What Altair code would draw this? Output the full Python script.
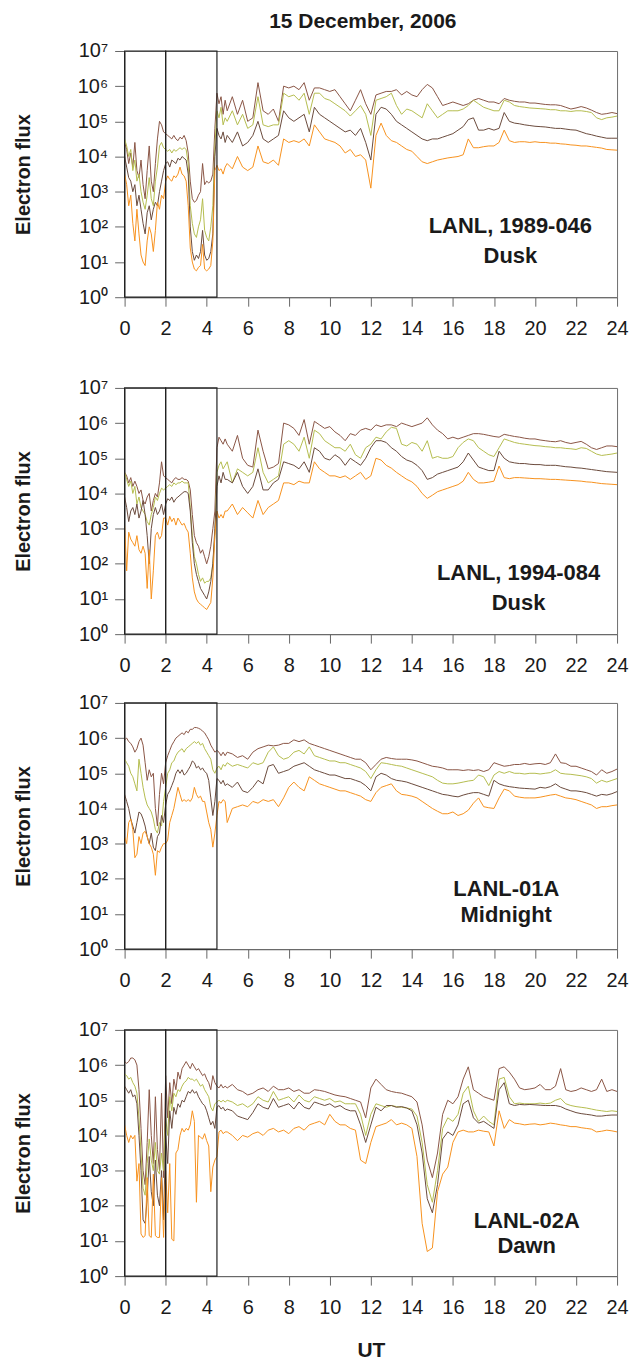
import altair as alt
import pandas as pd

FONT = "Liberation Sans"
TXT = "#1a1a1a"

# sample times (UT hours): 0.1 h steps up to 4.9, then 0.25 h steps to 24
HOURS = [round(i * 0.1, 1) for i in range(50)] + [5.0 + 0.25 * j for j in range(77)]

SERIES = ["s1", "s2", "s3", "s4"]
COLORS = ["#8a5545", "#b5bd4f", "#6a4a3c", "#f7921e"]

# ---------- values are log10(electron flux) ----------
# Panel 1: LANL 1989-046, Dusk
P1_A = [4.4, 4.2, 3.8, 4.1, 3.7, 4.4, 3.6, 3.4, 3.9, 3.2,
        2.8, 3.6, 4.3, 3.3, 3.0, 3.8, 4.5, 5.0, 4.9, 4.7,
        4.65, 4.6, 4.55, 4.5, 4.6, 4.5, 4.45, 4.55, 4.5, 4.6,
        4.45, 4.1, 3.3, 2.8, 2.7, 2.75, 2.9, 3.0, 3.8, 3.2,
        3.3, 3.25, 3.3, 3.5, 4.8, 5.8, 5.5, 5.7, 5.2, 5.6,
        5.3, 5.7, 5.2, 5.6,
        5.0, 5.1, 6.1, 5.3,
        5.2, 5.35, 5.0, 6.0,
        5.95, 6.0, 5.9, 6.1,
        5.6, 5.95, 5.95, 5.9,
        5.85, 5.9, 5.7, 5.5,
        5.3, 5.6, 5.9, 5.5,
        5.2, 5.75, 5.8, 5.85,
        5.85, 5.9, 5.75, 5.85,
        5.75, 5.7, 5.9, 6.05,
        5.95, 5.7, 5.45, 5.5,
        5.55, 5.5, 5.45, 5.5,
        5.6, 5.65, 5.6, 5.55,
        5.55, 5.5, 5.65, 5.6,
        5.57, 5.55, 5.55, 5.52,
        5.52, 5.5, 5.48, 5.47,
        5.47, 5.45, 5.4, 5.35,
        5.38, 5.42, 5.38, 5.32,
        5.25, 5.2, 5.22, 5.25,
        5.22]
P1_B = [4.5, 4.3, 4.0, 4.2, 3.6, 3.9, 3.3, 3.5, 3.0, 2.7,
        2.5, 2.9, 3.4, 2.8, 2.6, 3.3, 3.7, 4.3, 4.4, 4.25,
        4.2, 4.15, 4.2, 4.1, 4.2, 4.15, 4.2, 4.25, 4.2, 4.25,
        4.2, 3.8, 2.6, 2.1, 1.8, 1.7, 2.0, 2.2, 2.8, 1.9,
        1.7, 1.6, 2.0, 2.6, 4.3, 5.3, 5.1, 5.4, 4.9, 5.1,
        5.0, 5.3, 4.9, 5.2,
        4.8, 4.9, 5.7, 4.9,
        4.85, 4.9, 4.9, 5.8,
        5.7, 5.75, 5.6, 5.8,
        5.2, 5.8, 5.8, 5.65,
        5.6, 5.5, 5.4, 5.3,
        5.15, 5.3, 5.45, 5.2,
        4.6, 5.6, 5.65, 5.7,
        5.8, 5.45, 5.2, 5.35,
        5.3, 5.2, 5.1, 5.5,
        5.3, 5.1, 5.2, 5.3,
        5.3, 5.3, 5.35, 5.45,
        5.6, 5.5, 5.4, 5.35,
        5.3, 5.3, 5.6, 5.55,
        5.45, 5.42, 5.4, 5.38,
        5.37, 5.36, 5.35, 5.33,
        5.33, 5.3, 5.3, 5.28,
        5.3, 5.3, 5.28, 5.25,
        5.1, 5.05, 5.1, 5.12,
        5.15]
P1_C = [4.0, 3.7, 3.4, 3.3, 3.0, 3.2, 2.6, 2.9, 2.5, 2.1,
        1.8, 2.4, 2.6, 2.2, 2.5, 2.7, 2.6, 3.0, 3.3, 3.6,
        3.8, 3.85, 3.7, 3.9, 3.85, 3.8, 3.95, 3.9, 4.0, 3.95,
        3.9, 3.5, 2.0, 1.3, 1.05, 1.2, 1.1, 1.3, 1.9, 1.2,
        1.05, 1.1, 1.3, 1.8, 4.0, 4.8, 4.6, 4.5, 4.7, 4.4,
        4.6, 4.4, 4.7, 4.3,
        4.4, 4.6, 5.0, 4.5,
        4.4, 4.5, 4.6, 5.3,
        5.1, 5.0, 5.1, 5.2,
        4.7, 5.4, 5.2, 5.1,
        5.0, 4.9, 4.8, 4.7,
        4.75, 4.6, 4.8, 4.4,
        3.9, 5.2, 5.4, 5.35,
        5.2, 5.0, 4.9, 4.8,
        4.7, 4.6, 4.5, 4.45,
        4.5, 4.5, 4.55, 4.6,
        4.65, 4.75, 4.85, 5.05,
        5.1, 4.75, 4.75, 4.8,
        4.75, 4.8, 5.25, 5.0,
        4.95, 4.93, 4.9, 4.88,
        4.86, 4.85, 4.84, 4.82,
        4.8, 4.8, 4.78, 4.76,
        4.75, 4.7, 4.65, 4.62,
        4.58, 4.55, 4.52, 4.52,
        4.52]
P1_D = [3.5, 3.2, 2.6, 2.9, 2.1, 1.6, 2.5, 1.8, 1.2, 1.0,
        0.9, 1.6, 2.0, 1.8, 1.3, 1.9, 2.7, 2.5, 2.9, 2.8,
        3.3, 3.45, 3.35, 3.3, 3.45, 3.4, 3.5, 3.7, 3.5, 3.45,
        3.3, 2.6, 1.4, 1.0, 0.8, 0.75, 0.85, 0.9, 1.5, 0.8,
        0.75, 0.8, 0.9, 1.6, 3.6, 3.75, 3.6, 3.65, 3.5, 3.7,
        3.8, 3.65, 4.0, 3.7,
        3.6, 3.7, 4.3, 3.85,
        3.8, 3.9, 3.75, 4.5,
        4.4, 4.45, 4.4, 4.5,
        4.3, 4.9, 4.7, 4.5,
        4.45, 4.4, 4.3, 4.1,
        4.2, 4.0, 4.05, 3.9,
        3.1, 4.6, 4.95, 4.6,
        4.45, 4.4, 4.3, 4.2,
        4.15, 4.0, 3.85, 3.8,
        3.85, 3.9, 3.93, 3.96,
        3.98, 4.0, 4.05, 4.5,
        4.25, 4.25, 4.28, 4.3,
        4.3, 4.4, 4.75, 4.45,
        4.4, 4.42, 4.42, 4.4,
        4.42, 4.4, 4.4, 4.38,
        4.38, 4.36, 4.35, 4.33,
        4.32, 4.3, 4.3, 4.28,
        4.26, 4.24, 4.2, 4.19,
        4.18]

# Panel 2: LANL 1994-084, Dusk
P2_A = [4.6, 4.5, 4.3, 4.45, 4.2, 4.35, 4.2, 4.0, 4.1, 3.8,
        3.7, 3.9, 4.0, 3.5, 3.8, 4.0, 3.9, 4.3, 4.9, 4.5,
        4.45, 4.4, 4.35, 4.3, 4.4, 4.45, 4.4, 4.4, 4.45, 4.4,
        4.4, 4.35, 4.1, 3.4, 2.8, 2.6, 2.5, 2.3, 2.4, 2.2,
        2.0, 2.2, 2.5, 3.0, 3.5, 5.3, 5.6, 5.5, 5.4, 5.55,
        5.4, 5.2, 5.65, 5.0,
        4.8, 4.75, 5.8, 5.2,
        4.7, 4.75, 4.85, 6.0,
        5.95, 5.85, 5.65, 6.1,
        5.4, 6.05, 5.95, 5.85,
        5.9, 5.75, 5.65, 5.5,
        5.7, 5.65, 5.8, 5.85,
        5.8, 5.95, 5.9, 5.95,
        5.95, 5.9, 6.0, 5.95,
        5.9, 5.95, 6.0, 6.15,
        5.95, 5.8, 5.7, 5.55,
        5.6, 5.55, 5.6, 5.65,
        5.7, 5.7, 5.68, 5.65,
        5.62, 5.6, 5.68, 5.65,
        5.62, 5.6, 5.57, 5.55,
        5.55, 5.52, 5.5, 5.48,
        5.47, 5.5, 5.45, 5.42,
        5.45, 5.48, 5.4, 5.3,
        5.25, 5.3, 5.35, 5.35,
        5.33]
P2_B = [4.6, 4.4, 4.2, 4.35, 4.0, 4.2, 3.7, 3.9, 3.6, 3.5,
        3.4, 3.2, 3.1, 3.4, 3.6, 3.9, 3.8, 4.0, 4.15, 4.1,
        4.15, 4.2, 4.25, 4.2, 4.3, 4.25, 4.3, 4.3, 4.35, 4.3,
        4.3, 4.3, 3.6, 2.8, 2.2, 2.0, 1.7, 1.5, 1.6, 1.45,
        1.5, 1.5, 1.6, 2.0, 2.8, 4.6, 4.8, 4.9, 4.7, 4.8,
        4.9, 4.3, 4.7, 4.6,
        4.5, 4.6, 5.3, 4.6,
        4.3, 4.4, 4.5, 5.4,
        5.5, 5.4, 5.2, 5.6,
        5.0, 5.8, 5.7, 5.5,
        5.4, 5.3, 5.3, 5.2,
        5.4, 5.1, 5.0, 5.3,
        5.4, 5.6, 5.55, 5.75,
        5.88, 5.85, 5.4, 5.35,
        5.45, 5.4, 5.2, 5.5,
        5.0, 5.05, 5.0, 5.0,
        5.05, 5.3, 5.45, 5.55,
        5.5, 5.3, 5.2, 5.1,
        5.05, 5.3, 5.55, 5.5,
        5.45, 5.42, 5.4, 5.38,
        5.36, 5.35, 5.33, 5.32,
        5.3, 5.3, 5.28, 5.27,
        5.25, 5.3, 5.28, 5.2,
        5.12, 5.08, 5.1, 5.12,
        5.15]
P2_C = [3.9, 3.6, 3.2, 3.5, 3.6, 3.4, 3.7, 3.3, 3.5, 3.8,
        3.4, 2.8, 2.0, 3.0, 3.4, 3.6, 3.4, 3.5, 3.7, 3.4,
        3.7, 3.85, 3.8, 3.9, 3.75, 3.85, 3.9, 3.95, 4.0, 4.05,
        4.05, 4.0, 3.5, 2.6, 2.0, 1.7, 1.5, 1.3, 1.2, 1.1,
        1.0, 1.2, 1.5, 2.0, 3.0, 4.2, 4.5, 4.3, 4.6, 4.4,
        4.4, 4.3, 4.6, 4.2,
        4.0, 4.2, 4.7, 4.1,
        4.1, 4.3, 4.4, 4.9,
        4.85, 4.8, 4.7, 4.9,
        4.6, 5.3, 5.2, 5.0,
        4.95, 5.1, 5.0, 4.8,
        5.0, 4.9, 4.8, 5.0,
        5.3, 5.5, 5.5, 5.45,
        5.3, 5.2, 5.05, 4.95,
        4.9, 4.8, 4.65, 4.4,
        4.45, 4.55, 4.6, 4.65,
        4.7, 4.75, 4.9, 5.15,
        4.95, 4.75, 4.7, 4.65,
        4.65, 5.2, 5.0, 4.9,
        4.87, 4.85, 4.85, 4.83,
        4.82, 4.82, 4.8, 4.8,
        4.8, 4.78, 4.76, 4.75,
        4.73, 4.72, 4.7, 4.68,
        4.66, 4.64, 4.62, 4.61,
        4.6]
P2_D = [3.1, 1.8, 2.9, 2.7, 2.6, 2.5, 2.8, 2.4, 2.3, 2.5,
        2.3, 1.3, 2.4, 1.0, 1.8, 2.8, 2.9, 2.7, 2.8, 3.3,
        3.3, 3.1, 3.35, 3.2, 3.3, 3.1, 3.3, 3.2, 3.1, 3.15,
        3.0, 2.9, 2.3, 1.6, 1.2, 1.0, 0.9, 0.85, 0.8, 0.75,
        0.7, 0.8, 0.9, 1.6, 2.8, 3.5, 3.3, 3.4, 3.3, 3.5,
        3.5, 3.7, 3.4, 3.6,
        3.45, 3.3, 3.8, 3.4,
        3.6, 3.7, 3.8, 4.3,
        4.3, 4.25, 4.35, 4.3,
        4.3, 4.9, 4.7, 4.6,
        4.5, 4.5, 4.45, 4.5,
        4.4, 4.5, 4.6, 4.4,
        4.5, 5.0, 4.95, 4.8,
        4.72, 4.6, 4.5, 4.4,
        4.33, 4.2, 4.0, 3.86,
        3.95, 4.05, 4.1, 4.15,
        4.2, 4.25, 4.35, 4.6,
        4.4, 4.3, 4.3, 4.32,
        4.35, 4.78, 4.45, 4.42,
        4.45, 4.45, 4.44, 4.43,
        4.42, 4.42, 4.41, 4.4,
        4.4, 4.39, 4.38, 4.37,
        4.36, 4.35, 4.33, 4.32,
        4.3, 4.28, 4.27, 4.26,
        4.25]

# Panel 3: LANL-01A, Midnight
P3_A = [5.95, 6.0, 5.9, 5.85, 5.75, 5.6, 5.7, 5.9, 6.0, 5.8,
        5.3, 4.8, 5.1, 4.9, 5.0, 4.0, 3.5, 4.4, 5.0, 4.7,
        5.3, 5.5, 5.65, 5.8, 5.9, 6.0, 6.05, 6.1, 6.15, 6.1,
        6.2, 6.15, 6.25, 6.25, 6.3, 6.3, 6.28, 6.25, 6.2, 6.15,
        6.05, 5.95, 5.8, 5.7, 5.6, 5.65, 5.6, 5.5, 5.6, 5.5,
        5.6, 5.55, 5.45, 5.5,
        5.4, 5.6, 5.7, 5.75,
        5.8, 5.78, 5.8, 5.85,
        5.85, 5.95, 5.9, 5.95,
        5.85, 5.8, 5.75, 5.7,
        5.65, 5.6, 5.55, 5.5,
        5.45, 5.4, 5.4, 5.3,
        5.1, 5.25, 5.4, 5.45,
        5.42, 5.4, 5.4, 5.4,
        5.38, 5.35, 5.3, 5.25,
        5.2, 5.18, 5.15, 5.1,
        5.1, 5.1, 5.08, 5.1,
        5.08, 5.1, 5.05, 5.1,
        5.3, 5.25, 5.2, 5.22,
        5.25, 5.25, 5.28, 5.25,
        5.27, 5.28, 5.25, 5.3,
        5.55, 5.3, 5.28, 5.2,
        5.2, 5.15, 5.1, 5.05,
        4.95, 5.1, 5.0, 5.05,
        5.12]
P3_B = [5.4, 5.3, 5.2, 5.0, 4.9, 4.7, 4.5, 5.4, 5.0, 4.6,
        4.3, 4.1, 4.0, 3.9, 3.7, 3.4, 3.3, 3.6, 3.5, 4.2,
        4.6, 5.0, 5.1, 5.3, 5.35, 5.5, 5.6, 5.65, 5.7, 5.6,
        5.7, 5.75, 5.8, 5.85, 5.9, 5.85, 5.9, 5.8, 5.85, 5.7,
        5.6, 5.5, 5.4, 5.1, 5.0, 5.15, 5.2, 5.1, 5.25, 5.2,
        5.3, 5.2, 5.25, 5.2,
        5.15, 5.3, 5.25, 5.3,
        5.6, 5.75, 5.5, 5.4,
        5.45, 5.6, 5.65, 5.55,
        5.75, 5.5, 5.45, 5.4,
        5.35, 5.35, 5.3, 5.3,
        5.25, 5.2, 5.15, 5.05,
        4.85, 5.1, 5.3, 5.28,
        5.25, 5.22, 5.2, 5.15,
        5.1, 5.05, 5.0, 4.95,
        4.9, 4.8, 4.72, 4.7,
        4.7, 4.72, 4.75, 4.78,
        4.8, 4.95, 4.9, 4.65,
        4.95, 5.05, 5.0, 5.05,
        5.0, 5.0, 4.98, 5.0,
        5.0, 4.98, 5.0, 5.02,
        5.1, 5.0, 4.98, 4.97,
        4.95, 4.93, 4.9, 4.85,
        4.72, 4.8, 4.75, 4.8,
        4.85]
P3_C = [4.4, 4.2, 4.0, 3.7, 3.5, 3.3, 3.6, 3.9, 3.85, 3.7,
        3.5, 3.2, 3.0, 3.3, 2.9, 2.8, 3.2, 3.3, 3.8, 3.6,
        4.1, 4.4, 4.5, 4.65, 4.8, 5.0, 5.1, 5.0, 5.1, 4.95,
        5.0, 5.1, 5.2, 5.35, 5.3, 5.15, 5.2, 5.1, 5.15, 5.05,
        5.0, 4.8, 4.3, 3.8, 4.2, 4.85, 4.8, 4.7, 4.8, 4.65,
        4.7, 4.6, 4.75, 4.5,
        4.45, 4.6, 4.8, 4.7,
        5.2, 5.25, 5.0, 5.05,
        5.1, 5.2, 5.25, 5.3,
        5.2, 5.1, 5.05, 5.0,
        4.95, 4.95, 4.9, 4.85,
        4.85, 4.8, 4.75, 4.65,
        4.5, 4.9, 5.0, 4.95,
        4.85, 4.8, 4.78, 4.75,
        4.7, 4.65, 4.6, 4.55,
        4.5, 4.45, 4.4, 4.38,
        4.35, 4.33, 4.38, 4.42,
        4.45, 4.45, 4.4, 4.35,
        4.8, 4.7, 4.65, 4.62,
        4.6, 4.58, 4.57, 4.56,
        4.55, 4.6, 4.58, 4.62,
        4.7, 4.6, 4.55, 4.5,
        4.5, 4.48, 4.45, 4.4,
        4.35, 4.4, 4.38, 4.42,
        4.48]
P3_D = [3.2, 3.0, 3.6, 3.7, 3.4, 2.6, 2.7, 3.2, 3.0, 3.3,
        3.35, 3.2, 3.0, 2.9, 2.7, 2.1, 2.8, 2.75, 2.9, 3.0,
        3.0, 3.1, 3.6, 3.8, 4.0, 4.3, 4.6, 4.4, 4.2, 4.25,
        4.2, 4.25, 4.2, 4.3, 4.6, 4.4, 4.3, 4.35, 4.2, 4.2,
        3.9, 3.6, 3.4, 2.9, 3.3, 3.8, 4.2, 4.15, 4.25, 4.2,
        3.6, 4.0, 4.05, 4.1,
        4.05, 4.2, 4.15, 4.25,
        4.2, 4.25, 4.05, 4.3,
        4.6, 4.75, 4.6, 4.5,
        4.9, 4.8, 4.7, 4.65,
        4.6, 4.55, 4.5, 4.5,
        4.45, 4.4, 4.35, 4.25,
        4.2, 4.45, 4.6, 4.65,
        4.7, 4.5, 4.4, 4.38,
        4.35, 4.3, 4.2, 4.1,
        4.0, 3.92, 3.85, 3.85,
        3.9, 3.8, 3.85, 3.95,
        4.15, 4.3, 4.05, 4.02,
        4.0, 4.3, 4.55, 4.5,
        4.35, 4.32, 4.3, 4.3,
        4.3, 4.32, 4.35, 4.38,
        4.4, 4.35, 4.3, 4.28,
        4.25, 4.2, 4.15, 4.1,
        4.0, 4.05, 4.05, 4.08,
        4.1]

# Panel 4: LANL-02A, Dawn
P4_A = [6.1, 6.05, 6.1, 6.2, 6.2, 6.15, 6.0, 5.3, 4.2, 3.0,
        2.6, 3.8, 5.3, 4.0, 3.2, 5.1, 3.6, 3.0, 5.2, 2.8,
        5.7, 4.5, 5.5, 4.9, 5.6, 5.3, 5.8, 5.6, 5.9, 6.0,
        6.1, 6.0, 5.9, 6.05, 5.95, 5.85, 5.9, 5.8, 5.7, 5.75,
        5.6, 5.5, 5.3, 5.7, 5.5, 5.4, 5.35, 5.45, 5.35, 5.4,
        5.35, 5.45, 5.3, 5.25,
        5.15, 5.2, 5.3, 5.35,
        5.25, 5.4, 5.3, 5.3,
        5.35, 5.25, 5.3, 5.2,
        5.2, 5.3, 5.28, 5.25,
        5.2, 5.15, 5.12, 5.1,
        5.05, 5.0, 4.95, 4.5,
        5.35, 5.6, 5.45, 5.3,
        5.25, 5.22, 5.2, 5.15,
        5.1, 4.95, 4.3, 3.3,
        2.8, 3.5, 4.6, 5.0,
        4.9, 5.1, 5.6, 5.95,
        5.3, 5.2, 5.1, 5.05,
        5.0, 5.9, 5.95, 5.8,
        5.6, 5.35, 5.3, 5.32,
        5.35, 5.45, 5.3, 5.3,
        5.4, 5.9, 5.3, 5.25,
        5.28, 5.35, 5.3, 5.25,
        5.3, 5.6, 5.25, 5.3,
        5.25]
P4_B = [5.75, 5.7, 5.6, 5.65, 5.5, 5.4, 5.2, 4.5, 3.5, 2.5,
        2.3, 3.2, 3.9, 3.3, 3.0, 3.8, 3.0, 2.9, 3.5, 3.0,
        4.5, 4.0, 5.1, 4.7, 5.2, 5.1, 5.3, 5.25, 5.4, 5.5,
        5.55, 5.65, 5.6, 5.6, 5.55, 5.6, 5.5, 5.4, 5.45, 5.3,
        5.2, 5.1, 4.8, 4.7, 4.9, 4.95, 5.0, 4.95, 5.0, 4.95,
        5.0, 4.95, 4.85, 4.9,
        4.8, 4.9, 5.1, 5.0,
        4.95, 5.25, 5.0, 5.05,
        5.1, 4.95, 5.15, 5.0,
        4.95, 5.1, 5.05, 5.0,
        5.05, 4.95, 4.98, 4.9,
        4.9, 4.9, 4.6, 4.0,
        4.6, 4.9, 4.85, 4.8,
        4.85, 4.82, 4.8, 4.78,
        4.75, 4.55, 3.8, 2.6,
        2.1, 3.0, 4.2, 4.5,
        4.4, 4.6, 5.2, 5.4,
        4.7, 4.4, 4.55, 4.4,
        4.3, 5.6, 5.65, 5.1,
        4.9, 4.92, 4.9, 4.9,
        4.9, 4.92, 4.9, 4.92,
        5.0, 5.05, 4.9, 4.85,
        4.82, 4.8, 4.78, 4.75,
        4.72, 4.7, 4.68, 4.7,
        4.68]
P4_C = [5.4, 5.3, 5.2, 5.3, 5.1, 5.15, 4.9, 4.0, 3.0, 1.6,
        1.5, 2.2, 3.4, 2.4, 2.0, 3.3, 2.3, 2.0, 3.0, 1.6,
        4.0, 3.2, 4.7, 4.2, 4.8, 4.6, 4.9, 4.8, 5.0, 4.95,
        5.1, 5.25, 5.2, 5.3, 5.2, 5.25, 5.1, 5.0, 4.9, 4.85,
        4.7, 4.5, 4.3, 4.4, 4.2, 4.8, 4.85, 4.75, 4.8, 4.7,
        4.75, 4.7, 4.55, 4.5,
        4.45, 4.65, 4.9, 4.8,
        4.75, 5.05, 4.8, 4.85,
        4.9, 4.75, 4.95, 4.8,
        4.75, 4.95, 4.9, 4.85,
        4.9, 4.8, 4.85, 4.75,
        4.7, 4.7, 4.3, 3.8,
        4.3, 4.8, 4.7, 4.85,
        4.85, 4.8, 4.82, 4.78,
        4.7, 4.3, 3.5, 2.2,
        1.8, 2.6, 3.9, 4.1,
        4.0, 4.3, 4.9, 5.0,
        4.5, 4.35, 4.4, 4.3,
        4.2, 5.3, 5.5, 4.9,
        4.85, 4.88, 4.87, 4.88,
        4.87, 4.86, 4.85, 4.85,
        4.85, 4.82, 4.75, 4.7,
        4.65, 4.62, 4.6, 4.58,
        4.55, 4.55, 4.57, 4.58,
        4.58]
P4_D = [4.3, 4.0, 3.8, 4.0, 3.9, 4.0, 2.7, 3.2, 1.2, 1.1,
        1.15, 2.8, 1.15, 1.1, 2.9, 1.15, 1.1, 1.1, 2.8, 1.1,
        3.0, 1.8, 3.2, 1.05, 1.0, 3.5, 3.6, 4.0, 4.2, 4.1,
        4.2, 4.15, 4.3, 4.7, 4.4, 2.1, 4.0, 3.95, 3.9, 4.05,
        3.85, 3.7, 2.4, 3.1, 3.3, 3.4, 4.1, 4.15, 4.05, 4.1,
        4.1, 4.0, 3.85, 4.0,
        3.95, 4.05, 4.1, 4.0,
        4.15, 4.2, 4.1, 4.15,
        4.05, 4.2, 4.25, 4.15,
        4.3, 4.35, 4.4, 4.3,
        4.6, 4.4, 4.3, 4.3,
        4.2, 4.15, 3.3, 3.2,
        3.8, 4.25, 4.3, 4.35,
        4.45, 4.3, 4.35, 4.3,
        4.2, 3.4, 1.5, 0.7,
        0.8, 2.4, 2.9, 3.1,
        3.8, 4.1, 4.15, 4.1,
        4.1, 4.15, 4.12, 4.1,
        3.7, 4.7, 4.2, 4.45,
        4.35, 4.33, 4.3, 4.32,
        4.33, 4.3, 4.32, 4.35,
        4.33, 4.3, 4.28, 4.25,
        4.25, 4.22, 4.2, 4.18,
        4.1, 4.12, 4.15, 4.13,
        4.1]

PANEL_DATA = [[P1_A, P1_B, P1_C, P1_D],
              [P2_A, P2_B, P2_C, P2_D],
              [P3_A, P3_B, P3_C, P3_D],
              [P4_A, P4_B, P4_C, P4_D]]
LABEL_LINE1 = ["LANL, 1989-046", "LANL, 1994-084", "LANL-01A", "LANL-02A"]
LABEL_LINE2 = ["Dusk", "Dusk", "Midnight", "Dawn"]
LABEL_X = [18.8, 19.2, 18.6, 19.6]
LABEL_Y1 = [1.83, 1.55, 1.51, 1.38]
LABEL_Y2 = [0.98, 0.70, 0.76, 0.67]
BOX_START = [0.0, 2.0]
BOX_END = [2.0, 4.5]
X_TICKS = list(range(0, 25, 2))
Y_TICKS = [1, 10, 100, 1000, 1e4, 1e5, 1e6, 1e7]

W, H = 494, 247


def make_panel(i):
    rows = []
    for s, vals in zip(SERIES, PANEL_DATA[i]):
        if len(vals) != len(HOURS):
            raise ValueError(f"panel {i} series {s}: {len(vals)} != {len(HOURS)}")
        for h, v in zip(HOURS, vals):
            rows.append({"hour": h, "flux": 10 ** v, "series": s})
    df = pd.DataFrame(rows)

    xaxis_kw = dict(values=X_TICKS, grid=False,
                    labelFont=FONT, labelFontSize=20, labelColor=TXT, labelPadding=12,
                    tickSize=9, tickColor="#666", domainColor="#666", labelFlush=False)
    if i == 3:
        xaxis_kw.update(title="UT", titleFont=FONT, titleFontSize=21, titleFontWeight="bold",
                        titleColor=TXT, titleY=64, titleBaseline="top")
    else:
        xaxis_kw.update(title=None)
    xaxis = alt.Axis(**xaxis_kw)
    yaxis = alt.Axis(values=Y_TICKS, title="Electron flux", grid=False,
                     labelExpr="'10' + ['⁰','¹','²','³','⁴','⁵','⁶','⁷'][round(log(datum.value)/LN10)]",
                     labelFont=FONT, labelFontSize=20, labelColor=TXT, labelPadding=7,
                     tickSize=10, tickColor="#666", domain=False,
                     titleFont=FONT, titleFontSize=20, titleFontWeight="bold",
                     titleColor=TXT, titlePadding=44, labelFlush=False)
    X = alt.X("hour:Q", scale=alt.Scale(domain=[0, 24], nice=False, zero=False), axis=xaxis)
    Y = alt.Y("flux:Q", scale=alt.Scale(type="log", domain=[1, 1e7], nice=False), axis=yaxis)

    lines = alt.Chart(df).mark_line(strokeWidth=1, clip=True).encode(
        x=X, y=Y,
        color=alt.Color("series:N", scale=alt.Scale(domain=SERIES, range=COLORS), legend=None),
    )
    box_df = pd.DataFrame({"hour": BOX_START, "hour_end": BOX_END,
                           "flux": [1, 1], "flux_top": [1e7, 1e7]})
    boxes = alt.Chart(box_df).mark_rect(fillOpacity=0, stroke="#222", strokeWidth=1.2).encode(
        x=X, x2="hour_end:Q", y=Y, y2="flux_top:Q")
    txt_df = pd.DataFrame({"hour": [LABEL_X[i], LABEL_X[i]],
                           "flux": [10 ** LABEL_Y1[i], 10 ** LABEL_Y2[i]],
                           "label": [LABEL_LINE1[i], LABEL_LINE2[i]]})
    texts = alt.Chart(txt_df).mark_text(font=FONT, fontSize=22, fontWeight="bold",
                                        color=TXT, align="center", baseline="alphabetic").encode(
        x=X, y=Y, text="label:N")
    props = dict(width=W, height=H)
    if i == 0:
        props["title"] = alt.TitleParams("15 December, 2006", font=FONT, fontSize=21,
                                         fontWeight="bold", color=TXT, anchor="middle",
                                         offset=9, dx=-8)
    return alt.layer(lines, boxes, texts).properties(**props)


p1, p2, p3, p4 = [make_panel(i) for i in range(4)]
inner34 = alt.vconcat(p3, p4, spacing=28)
inner234 = alt.vconcat(p2, inner34, spacing=16)
chart = alt.vconcat(p1, inner234, spacing=38).properties(
    padding={"left": 12, "top": 8, "right": 5, "bottom": 0}
).configure_view(stroke="#6e6e6e", strokeWidth=1)

chart.save("out.html", embed_options={"renderer": "svg", "actions": False})
